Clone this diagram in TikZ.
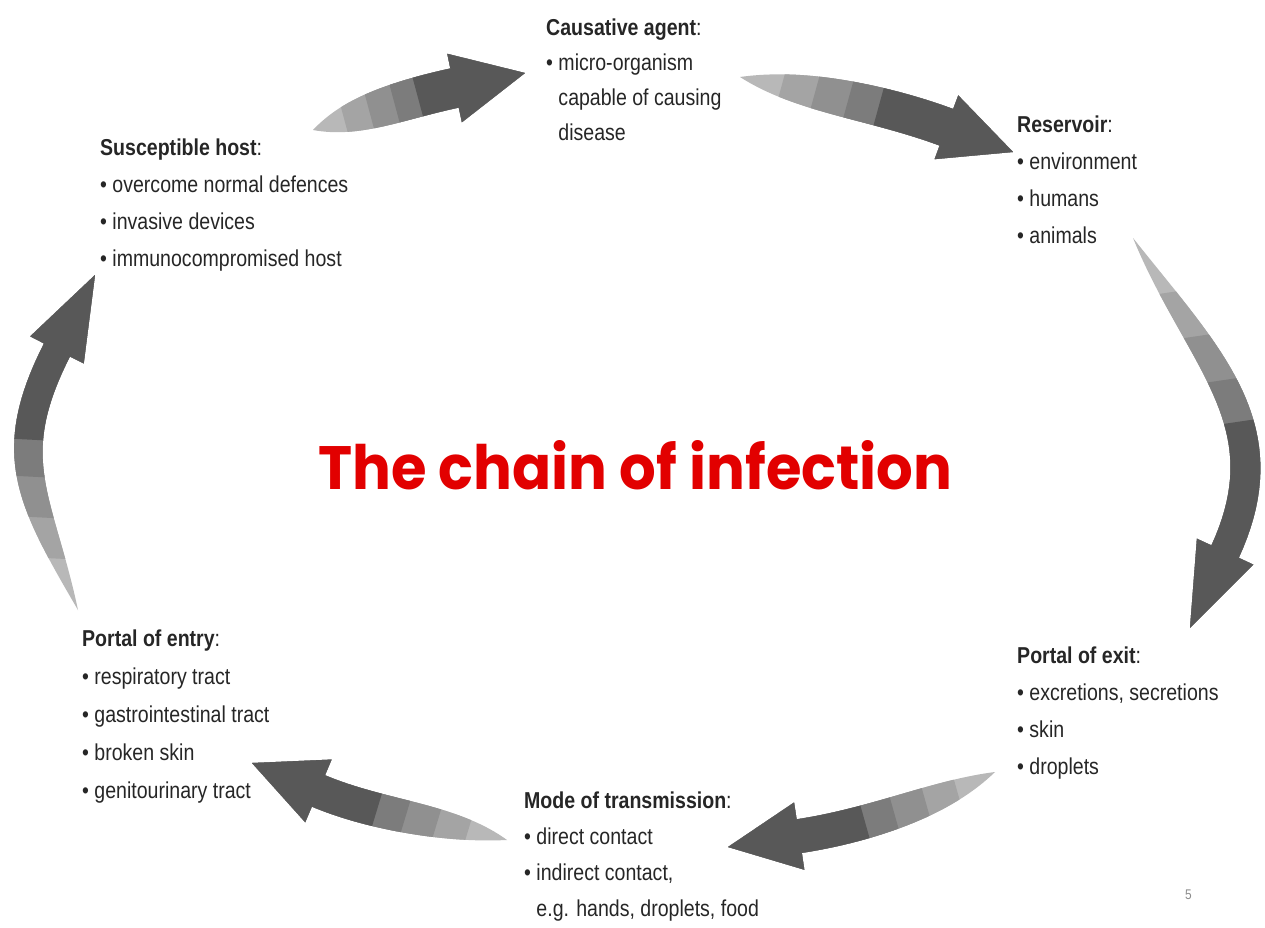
\documentclass[tikz,border=0pt]{standalone}
\usepackage{fontspec}
\usepackage{graphicx}
\newfontfamily\lblfont{Liberation Sans}[FakeStretch=0.85]
\newfontfamily\ttlfont{Poppins}
\definecolor{titlered}{RGB}{226,0,0}
\definecolor{bandA}{RGB}{184,184,184}
\definecolor{bandB}{RGB}{164,164,164}
\definecolor{bandC}{RGB}{144,144,144}
\definecolor{bandD}{RGB}{124,124,124}
\definecolor{bandE}{RGB}{88,88,88}
\newcommand{\chainarrow}[8]{%
  \path (#1); \pgfgetlastxy{\cTx}{\cTy}%
  \path (#2); \pgfgetlastxy{\cHx}{\cHy}%
  \pgfmathsetmacro\cL{veclen(\cHx-\cTx,\cHy-\cTy)}%
  \pgfmathsetmacro\cA{atan2(\cHy-\cTy,\cHx-\cTx)}%
  \pgfmathsetmacro\cux{cos(#4)}%
  \pgfmathsetmacro\cuy{sin(#4)}%
  \pgfmathsetmacro\cBx{\cL-(#5)*(\cux)}%
  \pgfmathsetmacro\cBy{-(#5)*(\cuy)}%
  \pgfmathsetmacro\cLb{veclen(\cBx,\cBy)}%
  \pgfmathsetmacro\cH{(#8)*\cLb}%
  \pgfmathsetmacro\cPx{\cH*cos(#3)}%
  \pgfmathsetmacro\cPy{\cH*sin(#3)}%
  \pgfmathsetmacro\cQx{\cBx-\cH*(\cux)}%
  \pgfmathsetmacro\cQy{\cBy-\cH*(\cuy)}%
  \begin{scope}[shift={(#1)},rotate=\cA]
    \clip (0,0) -- plot[domain=0:1,samples=40,variable=\t]
      ({bz(\t,\cPx,\cQx,\cBx)-wd(\t,#7)*dbz(\t,\cPy,\cQy,\cBy)/veclen(dbz(\t,\cPx,\cQx,\cBx),dbz(\t,\cPy,\cQy,\cBy))},
       {bz(\t,\cPy,\cQy,\cBy)+wd(\t,#7)*dbz(\t,\cPx,\cQx,\cBx)/veclen(dbz(\t,\cPx,\cQx,\cBx),dbz(\t,\cPy,\cQy,\cBy))})
      -- ({\cBx-(#6)*(\cuy)},{\cBy+(#6)*(\cux)}) -- (\cL,0)
      -- ({\cBx+(#6)*(\cuy)},{\cBy-(#6)*(\cux)})
      -- plot[domain=1:0,samples=40,variable=\t]
      ({bz(\t,\cPx,\cQx,\cBx)+wd(\t,#7)*dbz(\t,\cPy,\cQy,\cBy)/veclen(dbz(\t,\cPx,\cQx,\cBx),dbz(\t,\cPy,\cQy,\cBy))},
       {bz(\t,\cPy,\cQy,\cBy)-wd(\t,#7)*dbz(\t,\cPx,\cQx,\cBx)/veclen(dbz(\t,\cPx,\cQx,\cBx),dbz(\t,\cPy,\cQy,\cBy))})
      -- cycle;
    \foreach \f/\bc in {0/bandA,0.15/bandB,0.27/bandC,0.39/bandD,0.50/bandE}
      \fill[\bc] ({\f*\cL},-200) rectangle ({\cL+20},200);
  \end{scope}}
\begin{document}
\begin{tikzpicture}[x=1pt,y=1pt,
  declare function={
    bz(\qs,\qa,\qb,\qc)=3*\qs*(1-\qs)*(1-\qs)*\qa+3*\qs*\qs*(1-\qs)*\qb+\qs*\qs*\qs*\qc;
    dbz(\qs,\qa,\qb,\qc)=3*(1-\qs)*(1-\qs)*\qa+6*\qs*(1-\qs)*(\qb-\qa)+3*\qs*\qs*(\qc-\qb);
    wd(\qs,\qw)=\qw*(1-(1-\qs)*(1-\qs)*(1-\qs)*(1-\qs));
  },
  lbl/.style={anchor=north west,inner sep=0pt,align=left,text=black!85,
    font=\lblfont\fontsize{23}{37}\selectfont}]
\fill[white] (0,0) rectangle (1265,-928);
\useasboundingbox (0,0) rectangle (1265,-928);

% text blocks
\node[lbl,font=\lblfont\fontsize{23}{35}\selectfont] (agent) at (546,-15)
  {\rule{0pt}{20pt}\textbf{Causative agent}:\\
   • micro-organism\\ \phantom{• }capable of causing\\ \phantom{• }disease};
\node[lbl] (host) at (100,-135)
  {\rule{0pt}{20pt}\textbf{Susceptible host}:\\
   • overcome normal defences\\ • invasive devices\\ • immunocompromised host};
\node[lbl] (reservoir) at (1017,-112)
  {\rule{0pt}{20pt}\textbf{Reservoir}:\\
   • environment\\ • humans\\ • animals};
\node[lbl] (exit) at (1017,-643)
  {\rule{0pt}{20pt}\textbf{Portal of exit}:\\
   • excretions, secretions\\ • skin\\ • droplets};
\node[lbl,font=\lblfont\fontsize{23}{38}\selectfont] (entry) at (82,-626)
  {\rule{0pt}{20pt}\textbf{Portal of entry}:\\
   • respiratory tract\\ • gastrointestinal tract\\ • broken skin\\ • genitourinary tract};
\node[lbl,font=\lblfont\fontsize{23}{36}\selectfont] (mode) at (524,-788)
  {\rule{0pt}{20pt}\textbf{Mode of transmission}:\\
   • direct contact\\ • indirect contact,\\ \phantom{• }e.g. hands, droplets, food};

\node[anchor=base west,inner sep=0pt,text=titlered] (title) at (318,-489)
  {\resizebox{634pt}{49pt}{\ttlfont\bfseries The chain of infection}};
\node[anchor=base west,inner sep=0pt,text=black!45,font=\lblfont\fontsize{14}{16}\selectfont] (pagenum) at (1185,-899) {5};

% arrow end points
\coordinate (a1t) at (313,-130); \coordinate (a1h) at (525,-73);
\coordinate (a2t) at (740,-77);  \coordinate (a2h) at (1013,-152);
\coordinate (a3t) at (1133,-238); \coordinate (a3h) at (1190,-628);
\coordinate (a4t) at (995,-772); \coordinate (a4h) at (728,-847);
\coordinate (a5t) at (507,-840); \coordinate (a5h) at (252,-763);
\coordinate (a6t) at (78,-610);  \coordinate (a6h) at (95,-275);

% tail, tip, tail angle, head angle, head length, head half width, body half width, handle
\chainarrow{a1t}{a1h}{3}{-3}{72}{35}{20}{0.33}
\chainarrow{a2t}{a2h}{3}{-5}{71}{34}{19.5}{0.33}
\chainarrow{a3t}{a3h}{22}{-33}{84}{31}{15}{0.43}
\chainarrow{a4t}{a4h}{10}{-7}{72}{34}{17}{0.33}
\chainarrow{a5t}{a5h}{0}{-6}{72}{34}{17}{0.33}
\chainarrow{a6t}{a6h}{24}{-24}{84}{30}{14.5}{0.46}
\end{tikzpicture}
\end{document}
